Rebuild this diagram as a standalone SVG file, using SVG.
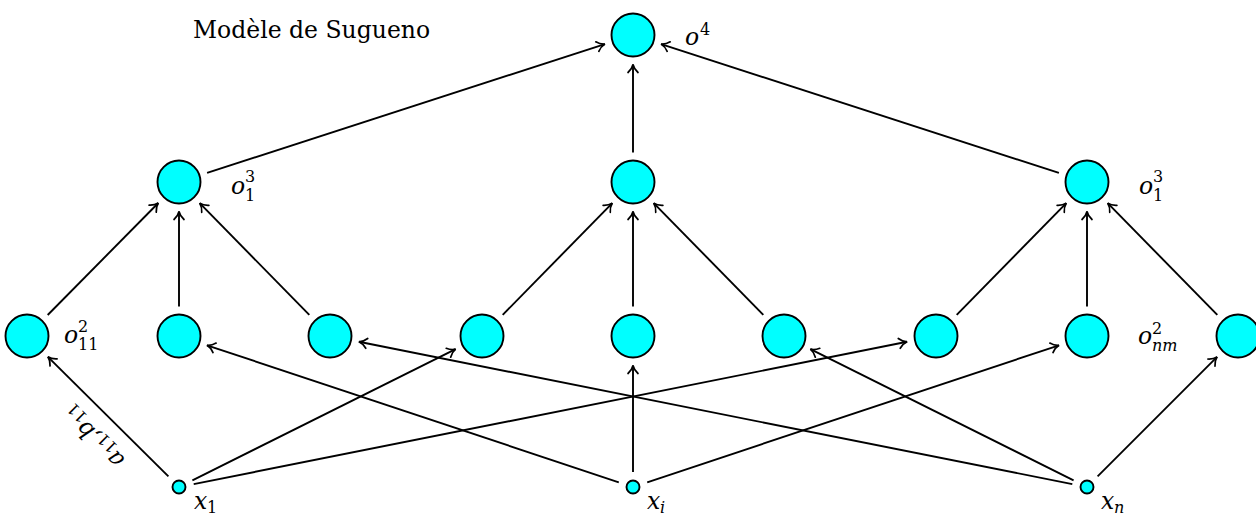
<svg xmlns="http://www.w3.org/2000/svg" width="1256" height="516" viewBox="0 0 1256 516">
<style>
.n{fill:#00FFFF;stroke:#000;stroke-width:1.9}
.e{stroke:#000;stroke-width:1.9;fill:none;marker-end:url(#ar)}
.t{font-family:"DejaVu Serif","Liberation Serif",serif;font-size:23.5px;fill:#000}
.m{font-family:"DejaVu Serif","Liberation Serif",serif;font-style:italic;font-size:23.5px;fill:#000}
.s{font-size:16px;font-style:normal}
.si{font-size:16px;font-style:italic}
</style>
<defs>
<marker id="ar" markerUnits="userSpaceOnUse" markerWidth="16" markerHeight="16" viewBox="-11 -8 16 16" refX="0" refY="0" orient="auto">
<path d="M-8,-5 C-5.5,-2.2 -2.2,-0.5 0,0 C-2.2,0.5 -5.5,2.2 -8,5" fill="none" stroke="#000" stroke-width="1.7" stroke-linecap="round"/>
</marker>
</defs>
<text class="t" x="193" y="38">Modèle de Sugueno</text>
<g id="connectors">
<line class="e" x1="207.1" y1="172.9" x2="604.9" y2="44.1"/>
<line class="e" x1="633" y1="152.5" x2="633" y2="64.5"/>
<line class="e" x1="1058.9" y1="172.9" x2="661.1" y2="44.1"/>
<line class="e" x1="47.7" y1="315" x2="158.3" y2="203"/>
<line class="e" x1="179" y1="306.5" x2="179" y2="211.5"/>
<line class="e" x1="309.3" y1="314.9" x2="199.7" y2="203.1"/>
<line class="e" x1="502.7" y1="314.9" x2="612.3" y2="203.1"/>
<line class="e" x1="633" y1="306.5" x2="633" y2="211.5"/>
<line class="e" x1="763.3" y1="314.9" x2="653.7" y2="203.1"/>
<line class="e" x1="956.7" y1="314.9" x2="1066.3" y2="203.1"/>
<line class="e" x1="1087" y1="306.5" x2="1087" y2="211.5"/>
<line class="e" x1="1217.3" y1="314.9" x2="1107.7" y2="203.1"/>
<line class="e" x1="168.4" y1="476.4" x2="47.9" y2="356.8"/>
<line class="e" x1="192.4" y1="480.3" x2="455.6" y2="349.2"/>
<line class="e" x1="193.7" y1="484.1" x2="907.1" y2="341.8"/>
<line class="e" x1="618.8" y1="482.3" x2="207" y2="345.3"/>
<line class="e" x1="633" y1="472" x2="633" y2="365.5"/>
<line class="e" x1="647.2" y1="482.3" x2="1059" y2="345.3"/>
<line class="e" x1="1072.3" y1="484.1" x2="358.9" y2="341.8"/>
<line class="e" x1="1073.6" y1="480.3" x2="810.4" y2="349.2"/>
<line class="e" x1="1097.6" y1="476.4" x2="1217.1" y2="356.9"/>
<text class="m" transform="translate(94,436) rotate(-135)" text-anchor="middle" y="6">a<tspan class="s" dy="4">11</tspan><tspan dy="-4">,b</tspan><tspan class="s" dy="4">11</tspan></text>
</g>
<g id="o4"><circle class="n" cx="633" cy="35" r="21.5"/><text class="m" x="685" y="45">o<tspan class="s" x="700" y="35">4</tspan></text></g>
<g id="o3a"><circle class="n" cx="179" cy="182" r="21.5"/><text class="m" x="231" y="193.5">o<tspan class="s" x="245" y="181.5">3</tspan><tspan class="s" x="245" y="200.5">1</tspan></text></g>
<g id="o3b"><circle class="n" cx="633" cy="182" r="21.5"/></g>
<g id="o3c"><circle class="n" cx="1087" cy="182" r="21.5"/><text class="m" x="1139" y="193.5">o<tspan class="s" x="1153" y="181.5">3</tspan><tspan class="s" x="1153" y="200.5">1</tspan></text></g>
<g id="o2_1"><circle class="n" cx="27" cy="336" r="21.5"/><text class="m" x="64" y="343">o<tspan class="s" x="78" y="332">2</tspan><tspan class="s" x="78" y="350">11</tspan></text></g>
<g id="o2_2"><circle class="n" cx="179" cy="336" r="21.5"/></g>
<g id="o2_3"><circle class="n" cx="330" cy="336" r="21.5"/></g>
<g id="o2_4"><circle class="n" cx="482" cy="336" r="21.5"/></g>
<g id="o2_5"><circle class="n" cx="633" cy="336" r="21.5"/></g>
<g id="o2_6"><circle class="n" cx="784" cy="336" r="21.5"/></g>
<g id="o2_7"><circle class="n" cx="936" cy="336" r="21.5"/></g>
<g id="o2_8"><circle class="n" cx="1087" cy="336" r="21.5"/><text class="m" x="1138" y="344">o<tspan class="s" x="1152" y="334">2</tspan><tspan class="si" x="1152" y="351">nm</tspan></text></g>
<g id="o2_9"><circle class="n" cx="1238" cy="336" r="21.5"/></g>
<g id="x1"><circle class="n" cx="179" cy="487" r="6.5"/><text class="m" x="194" y="509">x<tspan class="s" x="207" y="513">1</tspan></text></g>
<g id="xi"><circle class="n" cx="633" cy="487" r="6.5"/><text class="m" x="647" y="509">x<tspan class="si" x="660" y="513">i</tspan></text></g>
<g id="xn"><circle class="n" cx="1087" cy="487" r="6.5"/><text class="m" x="1101" y="509">x<tspan class="si" x="1114" y="513">n</tspan></text></g>
</svg>
